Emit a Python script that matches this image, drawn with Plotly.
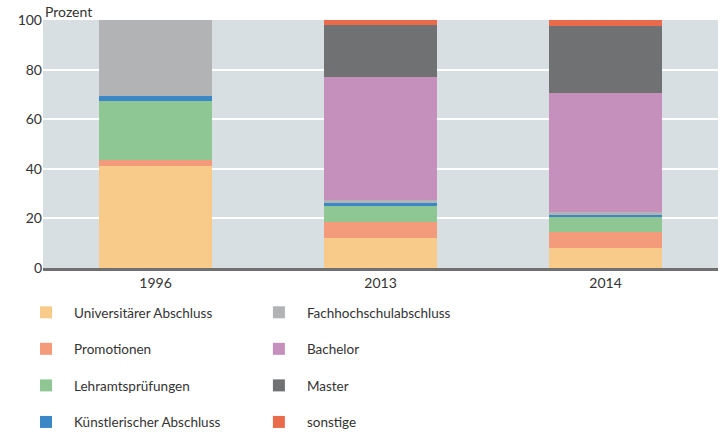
import plotly.graph_objects as go

years = ["1996", "2013", "2014"]
series_names = ["Universitärer Abschluss", "Promotionen", "Lehramtsprüfungen",
                "Künstlerischer Abschluss", "Fachhochschulabschluss", "Bachelor",
                "Master", "sonstige"]
universitaer = [41.1, 12.0, 8.0]
promotionen = [2.3, 6.5, 6.5]
lehramt = [23.9, 6.9, 6.3]
kuenstlerisch = [2.0, 0.8, 0.8]
fachhochschule = [30.7, 1.1, 0.8]
bachelor = [0.0, 49.7, 48.1]
master = [0.0, 21.0, 27.1]
sonstige = [0.0, 2.0, 2.4]
y_ticks = [0, 20, 40, 60, 80, 100]

values = [universitaer, promotionen, lehramt, kuenstlerisch, fachhochschule,
          bachelor, master, sonstige]
colors = ["#f9cb8b", "#f39b7a", "#8fc794", "#3c88c6", "#b2b3b4", "#c690bd",
          "#707173", "#ea6b4b"]
legend_ids = ["legend", "legend", "legend", "legend",
              "legend2", "legend2", "legend2", "legend2"]

FONT = "Lato"
fig = go.Figure()
for i, (name, vals) in enumerate(zip(series_names, values)):
    fig.add_trace(go.Bar(
        x=years, y=vals, name=name, marker_color=colors[i],
        marker_line_width=0, width=0.5, legend=legend_ids[i],
        legendgroup=name, legendrank=i,
    ))

legend_common = dict(
    orientation="v", yanchor="top", xanchor="left",
    font=dict(family=FONT, size=13.5, color="#333333"),
    bgcolor="rgba(0,0,0,0)", itemwidth=46, tracegroupgap=16,
    itemclick=False, itemdoubleclick=False,
)

fig.update_layout(
    width=725, height=445,
    margin=dict(l=43, r=7, t=20, b=177, autoexpand=False),
    barmode="stack",
    plot_bgcolor="#d8dfe3",
    paper_bgcolor="white",
    font=dict(family=FONT, size=14, color="#333333"),
    showlegend=True,
    legend=dict(x=-0.037, y=-0.117, **legend_common),
    legend2=dict(x=0.308, y=-0.117, **legend_common),
    bargap=0.5,
    xaxis=dict(type="category", showgrid=False, showline=True,
               linecolor="#707070", linewidth=3, ticks="", automargin=False,
               tickfont=dict(family=FONT, size=14, color="#333333")),
    yaxis=dict(range=[0, 100], tickvals=y_ticks, showgrid=True,
               gridcolor="white", gridwidth=2, zeroline=False, automargin=False,
               ticks="", tickfont=dict(family=FONT, size=14, color="#333333")),
    annotations=[dict(text="Prozent", xref="paper", yref="paper", x=0, y=1,
                      xanchor="left", yanchor="bottom", yshift=-2, showarrow=False,
                      font=dict(family=FONT, size=14, color="#333333"))],
)

fig.write_html("out.html", config={"displayModeBar": False},
               post_script="document.body.style.margin='0';document.body.style.overflow='hidden';")
